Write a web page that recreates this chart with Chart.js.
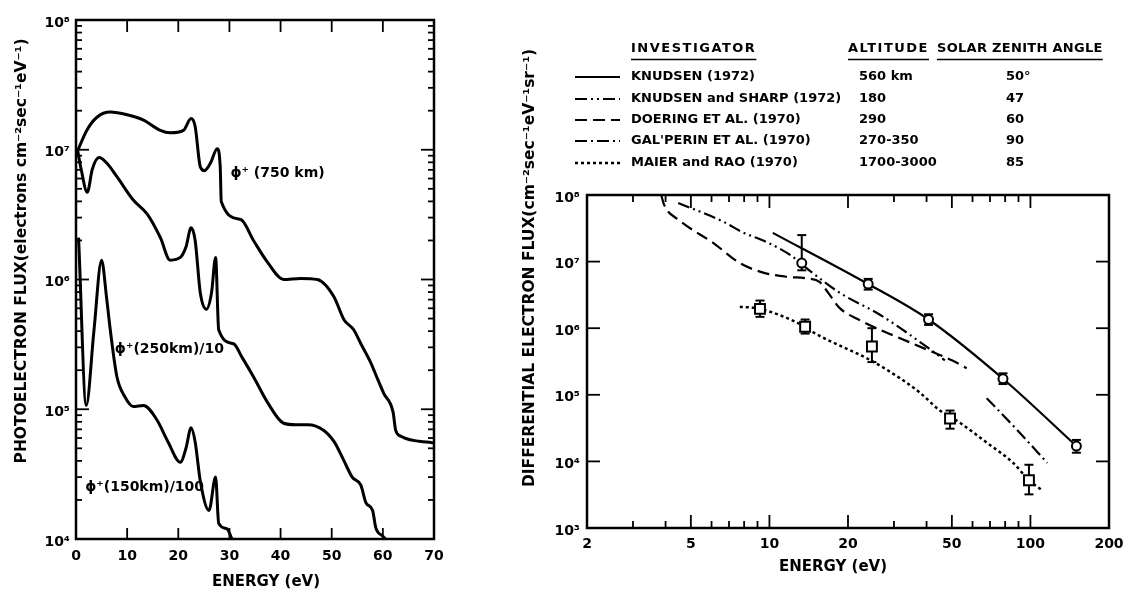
<!DOCTYPE html>
<html><head><meta charset="utf-8">
<script src="https://cdn.jsdelivr.net/npm/chart.js@4.4.1/dist/chart.umd.min.js"></script>
<style>
html,body{margin:0;padding:0;background:#fff;width:1134px;height:593px;overflow:hidden}
#wa{position:absolute;left:0;top:0;width:470px;height:593px}
#wb{position:absolute;left:470px;top:0;width:664px;height:593px}
</style></head><body>
<div id="wa"><canvas id="ca"></canvas></div>
<div id="wb"><canvas id="cb"></canvas></div>
<script>
// ---------------- LEFT CHART DATA ----------------
const xTicksA = [0,10,20,30,40,50,60,70];
const yTicksA = [1e4,1e5,1e6,1e7,1e8];
const yTickLabelsA = ['10⁴','10⁵','10⁶','10⁷','10⁸'];
const titleXA = 'ENERGY (eV)';
const titleYA = 'PHOTOELECTRON FLUX(electrons cm⁻²sec⁻¹eV⁻¹)';
const curveLabelsA = ['ϕ⁺ (750 km)','ϕ⁺(250km)/10','ϕ⁺(150km)/100'];

const e750 = [0.4,2.1,4.1,6.7,10,13.1,16.5,18.4,21,22.5,23.3,24.3,25.1,26.3,27.6,28.2,28.4,32.2,34.7,37.5,40.6,43.9,47.2,50.4,52.4,54.3,55.7,57.6,59.0,60.2,62.0,62.5,63.5,70];
const f750 = [1.0e7,1.41e7,1.78e7,1.95e7,1.86e7,1.70e7,1.41e7,1.35e7,1.41e7,1.74e7,1.51e7,7.4e6,6.9e6,7.9e6,1.02e7,7.4e6,4.0e6,2.9e6,2.0e6,1.35e6,1.0e6,1.02e6,1.0e6,7.4e5,4.9e5,4.1e5,3.2e5,2.3e5,1.7e5,1.32e5,9.5e4,6.9e4,6.2e4,5.5e4];

const e250 = [0.3,1.0,2.2,3.2,4.5,6.0,8.0,11.2,13.9,16.5,18.4,20.4,21.5,22.5,23.3,24.3,25.5,26.5,27.3,27.9,30.8,32.5,34.7,37.5,40.6,43.0,45.3,48.4,50.5,52.4,54.0,55.7,56.7,58.0,58.6,60.0,60.5];
const f250 = [1.0e7,7.1e6,4.7e6,7.1e6,8.7e6,7.9e6,6.2e6,4.1e6,3.2e6,2.1e6,1.41e6,1.48e6,1.78e6,2.5e6,2.0e6,7.9e5,5.9e5,7.9e5,1.48e6,4.1e5,3.2e5,2.5e5,1.78e5,1.12e5,7.8e4,7.6e4,7.6e4,6.9e4,5.6e4,4.0e4,3.0e4,2.6e4,1.9e4,1.66e4,1.23e4,1.05e4,1.0e4];

const e150 = [0.5,2.0,3.5,5.0,6.0,6.7,8.0,9.5,11.2,13.2,15.8,18.0,20.4,21.5,22.5,23.3,24.3,26.0,27.3,27.9,29.5,30.5];
const f150 = [2.1e6,1.07e5,4.0e5,1.41e6,7.1e5,4.1e5,1.78e5,1.26e5,1.05e5,1.07e5,8.3e4,5.6e4,3.9e4,5.0e4,7.2e4,5.6e4,2.8e4,1.66e4,3.0e4,1.32e4,1.2e4,1.0e4];

// ---------------- RIGHT CHART DATA ----------------
const xTicksB = [2,5,10,20,50,100,200];
const yTicksB = [1e3,1e4,1e5,1e6,1e7,1e8];
const yTickLabelsB = ['10³','10⁴','10⁵','10⁶','10⁷','10⁸'];
const titleXB = 'ENERGY (eV)';
const titleYB = 'DIFFERENTIAL ELECTRON FLUX(cm⁻²sec⁻¹eV⁻¹sr⁻¹)';
const tableHeaders = ['INVESTIGATOR','ALTITUDE','SOLAR ZENITH ANGLE'];
const investigators = ['KNUDSEN (1972)','KNUDSEN and SHARP (1972)','DOERING ET AL. (1970)',"GAL'PERIN ET AL. (1970)",'MAIER and RAO (1970)'];
const altitudes = ['560 km','180','290','270-350','1700-3000'];
const zenithAngles = ['50°','47','60','90','85'];

const knudsenE = [10.3,23.9,40.7,78.5,150];
const knudsenF = [2.7e7,4.6e6,1.35e6,1.74e5,1.7e4];
const knudsenPtE = [13.3,23.9,40.7,78.5,150];
const knudsenPtF = [9.5e6,4.6e6,1.35e6,1.74e5,1.7e4];
const knudsenLo = [7.4e6,3.8e6,1.12e6,1.45e5,1.35e4];
const knudsenHi = [2.5e7,5.5e6,1.62e6,2.1e5,2.1e4];

const ksE = [4.47,6.64,7.9,9.8,12,14.6,18.6,26.6,40.2,47];
const ksF = [7.6e7,4.0e7,2.75e7,1.95e7,1.26e7,6.8e6,3.4e6,1.58e6,5.2e5,3.3e5];

const doeringE = [3.85,3.95,4.5,6.1,7.7,9.4,11.7,13.9,15.6,16.8,18.6,22.2,25,30.8,40,50,57];
const doeringF = [1.0e8,7.1e7,4.2e7,1.9e7,9.5e6,6.9e6,5.9e6,5.6e6,4.9e6,3.4e6,2.0e6,1.32e6,1.05e6,7.4e5,4.8e5,3.3e5,2.5e5];

const galperinE = [68,88.7,116];
const galperinF = [8.9e4,3.0e4,9.5e3];

const maierE = [7.7,9.2,13.7,14.7,24.4,31.6,37.8,45,49.2,53.7,68.2,85.9,98.7,110.7];
const maierF = [2.1e6,1.95e6,1.05e6,8.7e5,3.3e5,1.78e5,1.07e5,5.8e4,4.7e4,3.8e4,1.9e4,9.5e3,5.2e3,3.7e3];
const maierPtE = [9.2,13.7,24.7,49.2,98.7];
const maierPtF = [1.95e6,1.05e6,5.3e5,4.4e4,5.2e3];
const maierLo = [1.48e6,8.3e5,3.1e5,3.1e4,3.2e3];
const maierHi = [2.6e6,1.35e6,1.0e6,5.8e4,8.9e3];

// ---------------- HELPERS ----------------
const FONT = '"DejaVu Sans", "Liberation Sans", sans-serif';
Chart.defaults.font.family = FONT;
Chart.defaults.font.weight = 'bold';
Chart.defaults.color = '#000';
const pts = (xs, ys) => xs.map((x, i) => ({x, y: ys[i]}));
function seg(ctx, x1, y1, x2, y2) { ctx.beginPath(); ctx.moveTo(x1, y1); ctx.lineTo(x2, y2); ctx.stroke(); }

// ---------------- LEFT CHART ----------------
const plugA = {
  id: 'plugA',
  afterDraw(chart) {
    const {ctx, chartArea: a, scales: {x, y}} = chart;
    ctx.save();
    ctx.strokeStyle = '#000';
    ctx.lineWidth = 2.5;
    ctx.strokeRect(a.left, a.top, a.right - a.left, a.bottom - a.top);
    ctx.lineWidth = 1.8;
    for (let d = 4; d < 8; d++) {
      for (let m = 1; m < 10; m++) {
        const py = y.getPixelForValue(m * Math.pow(10, d));
        const L = m === 1 ? 13 : 6;
        if (m === 1 && d === 4) continue;
        seg(ctx, a.left, py, a.left + L, py);
        seg(ctx, a.right, py, a.right - L, py);
      }
    }
    xTicksA.forEach(v => {
      if (v > 0 && v < 70) {
        const px = x.getPixelForValue(v);
        seg(ctx, px, a.bottom, px, a.bottom - 11);
        seg(ctx, px, a.top, px, a.top + 12);
      }
    });
    // curve labels
    ctx.fillStyle = '#000';
    ctx.font = 'bold 14px ' + FONT;
    ctx.textBaseline = 'middle';
    ctx.textAlign = 'left';
    const anchors = [[30.2, 6.6e6], [7.6, 2.9e5], [1.8, 2.5e4]];
    curveLabelsA.forEach((t, i) => {
      ctx.fillText(t, x.getPixelForValue(anchors[i][0]), y.getPixelForValue(anchors[i][1]));
    });
    // axis titles
    ctx.font = 'bold 15px ' + FONT;
    ctx.textAlign = 'center';
    ctx.fillText(titleXA, 266, 582);
    ctx.save();
    ctx.translate(22, 251);
    ctx.rotate(-Math.PI / 2);
    ctx.font = 'bold 15.5px ' + FONT;
    ctx.fillText(titleYA, 0, 0);
    ctx.restore();
    ctx.restore();
  }
};

const lineA = (label, xs, ys) => ({
  label, data: pts(xs, ys), borderColor: '#000', borderWidth: 3, pointRadius: 0,
  fill: false, cubicInterpolationMode: 'monotone'
});

new Chart(document.getElementById('ca'), {
  type: 'line',
  data: {datasets: [
    lineA('O+ 750 km', e750, f750),
    lineA('O+ 250 km /10', e250, f250),
    lineA('O+ 150 km /100', e150, f150)
  ]},
  options: {
    responsive: true, maintainAspectRatio: false, animation: false, devicePixelRatio: 1,
    layout: {padding: {left: 0, right: 36, top: 20, bottom: 0}},
    plugins: {legend: {display: false}, tooltip: {enabled: false}},
    scales: {
      x: {
        type: 'linear', min: 0, max: 70,
        grid: {display: false, drawTicks: false}, border: {display: false},
        afterFit(s) { s.height = 54; },
        afterBuildTicks(s) { s.ticks = xTicksA.map(v => ({value: v})); },
        ticks: {font: {size: 14, weight: 'bold'}, color: '#000', padding: 9, maxRotation: 0, autoSkip: false,
          callback: v => String(v)}
      },
      y: {
        type: 'logarithmic', min: 1e4, max: 1e8,
        grid: {display: false, drawTicks: false}, border: {display: false},
        afterFit(s) { s.width = 76; },
        afterBuildTicks(s) { s.ticks = yTicksA.map(v => ({value: v})); },
        ticks: {font: {size: 14, weight: 'bold'}, color: '#000', padding: 6, labelOffset: 3, autoSkip: false,
          callback: v => yTickLabelsA[yTicksA.indexOf(v)]}
      }
    }
  },
  plugins: [plugA]
});

// ---------------- RIGHT CHART ----------------
const dashK = [], dashKS = [12,4,2,4,2,4], dashD = [12,6], dashG = [12,4,2,4], dashM = [3,3];
const styles = [
  {dash: dashK, width: 2.2},
  {dash: dashKS, width: 2.2},
  {dash: dashD, width: 2.2},
  {dash: dashG, width: 2.2},
  {dash: dashM, width: 2.5}
];
const errSets = [
  {xs: knudsenPtE, lo: knudsenLo, hi: knudsenHi},
  {xs: maierPtE, lo: maierLo, hi: maierHi}
];

const plugB = {
  id: 'plugB',
  beforeDatasetsDraw(chart) {
    const {ctx, scales: {x, y}} = chart;
    ctx.save();
    ctx.strokeStyle = '#000';
    ctx.lineWidth = 2;
    errSets.forEach(s => {
      s.xs.forEach((e, i) => {
        const px = x.getPixelForValue(e);
        const p1 = y.getPixelForValue(s.lo[i]), p2 = y.getPixelForValue(s.hi[i]);
        seg(ctx, px, p1, px, p2);
        seg(ctx, px - 4.5, p1, px + 4.5, p1);
        seg(ctx, px - 4.5, p2, px + 4.5, p2);
      });
    });
    ctx.restore();
  },
  afterDraw(chart) {
    const {ctx, chartArea: a, scales: {x, y}} = chart;
    ctx.save();
    ctx.strokeStyle = '#000';
    ctx.fillStyle = '#000';
    ctx.lineWidth = 2.5;
    ctx.strokeRect(a.left, a.top, a.right - a.left, a.bottom - a.top);
    ctx.lineWidth = 1.8;
    yTicksB.forEach(v => {
      if (v > 1e3 && v < 1e8) {
        const py = y.getPixelForValue(v);
        seg(ctx, a.left, py, a.left + 13, py);
        seg(ctx, a.right, py, a.right - 13, py);
      }
    });
    for (let d = 0; d < 3; d++) {
      for (let m = 1; m < 10; m++) {
        const v = m * Math.pow(10, d);
        if (v <= 2 || v >= 200) continue;
        if (d === 2 && m > 1) continue;
        const major = (m === 1 || m === 2 || m === 5);
        const L = major ? 13 : 7;
        const px = x.getPixelForValue(v);
        seg(ctx, px, a.bottom, px, a.bottom - L);
        seg(ctx, px, a.top, px, a.top + L);
      }
    }
    // legend table
    ctx.font = 'bold 13px ' + FONT;
    ctx.textBaseline = 'middle';
    ctx.textAlign = 'left';
    const colX = [161, 378, 467];
    ctx.letterSpacing = '1.5px';
    tableHeaders.forEach((h, i) => {
      ctx.letterSpacing = i === 2 ? '0.3px' : '1.5px';
      ctx.fillText(h, colX[i], 49);
      const w = ctx.measureText(h).width;
      ctx.lineWidth = 1.5;
      seg(ctx, colX[i], 59.5, colX[i] + w, 59.5);
    });
    ctx.letterSpacing = '0px';
    const rowY = [77, 99, 120, 141, 163];
    investigators.forEach((t, i) => {
      ctx.lineWidth = styles[i].width;
      ctx.setLineDash(styles[i].dash);
      seg(ctx, 105, rowY[i], 150, rowY[i]);
      ctx.setLineDash([]);
      ctx.fillText(t, 161, rowY[i]);
      ctx.fillText(altitudes[i], 389, rowY[i]);
      ctx.fillText(zenithAngles[i], 536, rowY[i]);
    });
    // axis titles
    ctx.font = 'bold 15px ' + FONT;
    ctx.textAlign = 'center';
    ctx.fillText(titleXB, 363, 567);
    ctx.save();
    ctx.translate(60, 268);
    ctx.rotate(-Math.PI / 2);
    ctx.font = 'bold 15.5px ' + FONT;
    ctx.fillText(titleYB, 0, 0);
    ctx.restore();
    ctx.restore();
  }
};

const lineB = (label, xs, ys, st) => ({
  label, data: pts(xs, ys), borderColor: '#000', borderWidth: st.width, borderDash: st.dash,
  pointRadius: 0, fill: false, cubicInterpolationMode: 'monotone', order: 2
});

new Chart(document.getElementById('cb'), {
  type: 'line',
  data: {datasets: [
    lineB(investigators[0], knudsenE, knudsenF, styles[0]),
    lineB(investigators[1], ksE, ksF, styles[1]),
    lineB(investigators[2], doeringE, doeringF, styles[2]),
    lineB(investigators[3], galperinE, galperinF, styles[3]),
    lineB(investigators[4], maierE, maierF, styles[4]),
    {label: 'Knudsen data', data: pts(knudsenPtE, knudsenPtF), showLine: false, pointStyle: 'circle',
     pointRadius: 4.5, pointBorderWidth: 2, pointBorderColor: '#000', pointBackgroundColor: '#fff', order: 0},
    {label: 'Maier data', data: pts(maierPtE, maierPtF), showLine: false, pointStyle: 'rect',
     pointRadius: 7, pointBorderWidth: 2, pointBorderColor: '#000', pointBackgroundColor: '#fff', order: 0}
  ]},
  options: {
    responsive: true, maintainAspectRatio: false, animation: false, devicePixelRatio: 1,
    layout: {padding: {left: 0, right: 25, top: 195, bottom: 0}},
    plugins: {legend: {display: false}, tooltip: {enabled: false}},
    scales: {
      x: {
        type: 'logarithmic', min: 2, max: 200,
        grid: {display: false, drawTicks: false}, border: {display: false},
        afterFit(s) { s.height = 65; },
        afterBuildTicks(s) { s.ticks = xTicksB.map(v => ({value: v})); },
        ticks: {font: {size: 14, weight: 'bold'}, color: '#000', padding: 8, maxRotation: 0, autoSkip: false,
          callback: v => String(v)}
      },
      y: {
        type: 'logarithmic', min: 1e3, max: 1e8,
        grid: {display: false, drawTicks: false}, border: {display: false},
        afterFit(s) { s.width = 117; },
        afterBuildTicks(s) { s.ticks = yTicksB.map(v => ({value: v})); },
        ticks: {font: {size: 14, weight: 'bold'}, color: '#000', padding: 7, labelOffset: 3, autoSkip: false,
          callback: v => yTickLabelsB[yTicksB.indexOf(v)]}
      }
    }
  },
  plugins: [plugB]
});
</script>
</body></html>
